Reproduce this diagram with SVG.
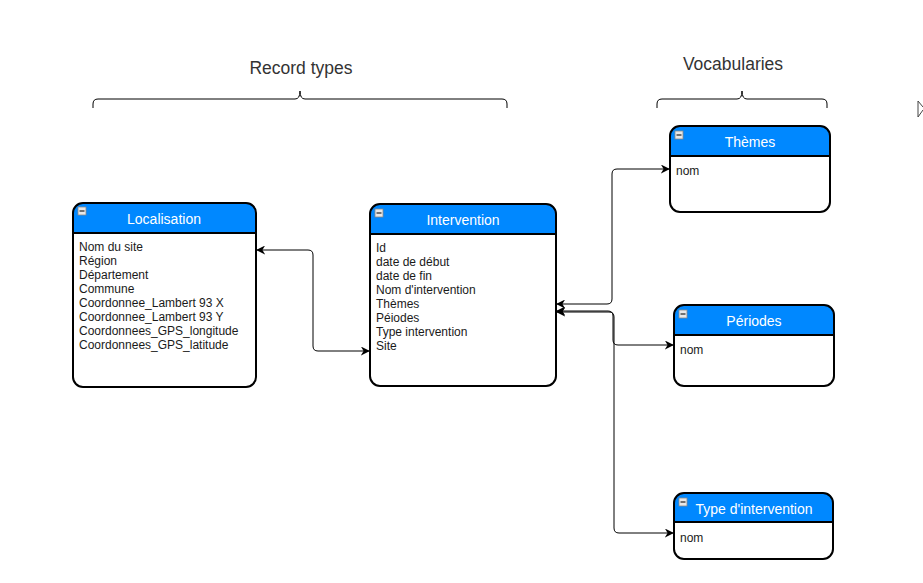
<svg xmlns="http://www.w3.org/2000/svg" width="923" height="583" viewBox="0 0 923 583">
<style>
.box{fill:#fff;stroke:none}
.hdr{fill:#0088ff}
.out{fill:none;stroke:#000;stroke-width:2}
.sep{stroke:#000;stroke-width:2}
.title{font-family:"Liberation Sans",Arial,sans-serif;font-size:14px;fill:#fff;text-anchor:middle}
.body{font-family:"Liberation Sans",Arial,sans-serif;font-size:12px;fill:#1a1a1a}
.label{font-family:"Liberation Sans",Arial,sans-serif;font-size:17.5px;fill:#333;text-anchor:middle}
.brace{fill:none;stroke:#000;stroke-width:1}
.conn{fill:none;stroke:#000;stroke-width:1}
.icon{fill:#e8e8e8;stroke:#888;stroke-width:0.8}
</style>
<defs>
<marker id="arr" viewBox="0 0 10 10" refX="9" refY="5" markerWidth="9" markerHeight="9" markerUnits="userSpaceOnUse" orient="auto-start-reverse">
<path d="M0,0 L10,5 L0,10 L3,5 z" fill="#000"/>
</marker>
<g id="minus"><rect class="icon" x="0" y="0" width="8" height="8"/><line x1="1.5" y1="4" x2="6.5" y2="4" stroke="#222" stroke-width="1.2"/></g>
</defs>
<rect width="923" height="583" fill="#fff"/>

<g id="record-types-label">
<text class="label" x="301" y="74">Record types</text>
<path class="brace" d="M93,108 V104 Q93,99 98,99 H295 Q300,99 300,91 Q300,99 305,99 H502 Q507,99 507,104 V108"/>
</g>
<g id="vocabularies-label">
<text class="label" x="733" y="70">Vocabularies</text>
<path class="brace" d="M657,108 V104 Q657,99 662,99 H737 Q742,99 742,91 Q742,99 747,99 H822 Q827,99 827,104 V108"/>
</g>

<g id="localisation">
<rect class="box" x="73" y="203" width="183" height="184" rx="10"/>
<path class="hdr" d="M73,233 V213 Q73,203 83,203 H246 Q256,203 256,213 V233 Z"/>
<line class="sep" x1="73" y1="233" x2="256" y2="233"/>
<rect class="out" x="73" y="203" width="183" height="184" rx="10"/>
<use href="#minus" x="78" y="207"/>
<text class="title" x="164" y="224">Localisation</text>
<text class="body" x="79" y="251">Nom du site</text>
<text class="body" x="79" y="265">Région</text>
<text class="body" x="79" y="279">Département</text>
<text class="body" x="79" y="293">Commune</text>
<text class="body" x="79" y="307">Coordonnee_Lambert 93 X</text>
<text class="body" x="79" y="321">Coordonnee_Lambert 93 Y</text>
<text class="body" x="79" y="335">Coordonnees_GPS_longitude</text>
<text class="body" x="79" y="349">Coordonnees_GPS_latitude</text>
</g>

<g id="intervention">
<rect class="box" x="370" y="204" width="186" height="182" rx="10"/>
<path class="hdr" d="M370,234 V214 Q370,204 380,204 H546 Q556,204 556,214 V234 Z"/>
<line class="sep" x1="370" y1="234" x2="556" y2="234"/>
<rect class="out" x="370" y="204" width="186" height="182" rx="10"/>
<use href="#minus" x="375" y="209"/>
<text class="title" x="463" y="225">Intervention</text>
<text class="body" x="376" y="252">Id</text>
<text class="body" x="376" y="266">date de début</text>
<text class="body" x="376" y="280">date de fin</text>
<text class="body" x="376" y="294">Nom d'intervention</text>
<text class="body" x="376" y="308">Thèmes</text>
<text class="body" x="376" y="322">Péiodes</text>
<text class="body" x="376" y="336">Type intervention</text>
<text class="body" x="376" y="350">Site</text>
</g>

<g id="themes">
<rect class="box" x="670" y="126" width="160" height="86" rx="10"/>
<path class="hdr" d="M670,156 V136 Q670,126 680,126 H820 Q830,126 830,136 V156 Z"/>
<line class="sep" x1="670" y1="156" x2="830" y2="156"/>
<rect class="out" x="670" y="126" width="160" height="86" rx="10"/>
<use href="#minus" x="675" y="131"/>
<text class="title" x="750" y="147">Thèmes</text>
<text class="body" x="676" y="175">nom</text>
</g>

<g id="periodes">
<rect class="box" x="674" y="305" width="160" height="81" rx="10"/>
<path class="hdr" d="M674,335 V315 Q674,305 684,305 H824 Q834,305 834,315 V335 Z"/>
<line class="sep" x1="674" y1="335" x2="834" y2="335"/>
<rect class="out" x="674" y="305" width="160" height="81" rx="10"/>
<use href="#minus" x="679" y="310"/>
<text class="title" x="754" y="326">Périodes</text>
<text class="body" x="680" y="354">nom</text>
</g>

<g id="type-intervention">
<rect class="box" x="674" y="493" width="159" height="66" rx="10"/>
<path class="hdr" d="M674,522 V503 Q674,493 684,493 H823 Q833,493 833,503 V522 Z"/>
<line class="sep" x1="674" y1="522" x2="833" y2="522"/>
<rect class="out" x="674" y="493" width="159" height="66" rx="10"/>
<use href="#minus" x="679" y="498"/>
<text class="title" x="754" y="514">Type d'intervention</text>
<text class="body" x="680" y="542">nom</text>
</g>

<g id="connectors">
<path class="conn" d="M257,250 H308 Q313,250 313,255 V346 Q313,351 318,351 H369" marker-start="url(#arr)" marker-end="url(#arr)"/>
<path class="conn" d="M557,304 H607 Q612,304 612,299 V174 Q612,169 617,169 H669" marker-start="url(#arr)" marker-end="url(#arr)"/>
<path class="conn" d="M557,311 H608 Q613,311 613,316 V340 Q613,345 618,345 H673" marker-start="url(#arr)" marker-end="url(#arr)"/>
<path class="conn" d="M557,312 H609 Q614,312 614,317 V528 Q614,533 619,533 H673" marker-start="url(#arr)" marker-end="url(#arr)"/>
</g>

<path d="M918,101 V117 L923,110 M918,101 L923,107" fill="none" stroke="#444" stroke-width="1"/>
</svg>
